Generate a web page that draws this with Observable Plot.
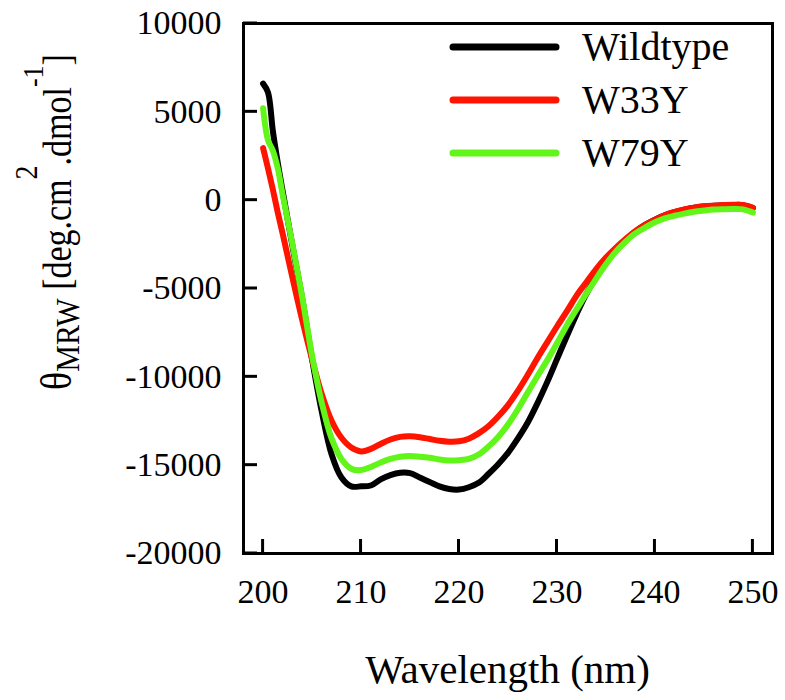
<!DOCTYPE html>
<html>
<head>
<meta charset="utf-8">
<script src="https://cdn.jsdelivr.net/npm/d3@7"></script>
<script src="https://cdn.jsdelivr.net/npm/@observablehq/plot@0.6"></script>
<style>
  html, body { margin: 0; padding: 0; background: #fff; }
  #chart { position: relative; width: 785px; height: 700px; }
</style>
</head>
<body>
<div id="chart"></div>
<script>
const seriesNames = ["Wildtype", "W33Y", "W79Y"];
const seriesColors = ["#000000", "#ff1400", "#62f51a"];
const xTicks = [200, 210, 220, 230, 240, 250];
const yTicks = [10000, 5000, 0, -5000, -10000, -15000, -20000];
const xLabel = "Wavelength (nm)";

const wavelengths = [200, 200.5, 201, 201.5, 202,
  203, 204, 205, 206, 207, 208, 209, 210, 211, 212, 213, 214, 215, 216, 217, 218, 219, 220,
  221, 222, 223, 224, 225, 226, 227, 228, 229, 230, 231, 232, 233, 234, 235, 236, 237, 238,
  239, 240, 241, 242, 243, 244, 245, 246, 247, 248, 249, 250];

const wildtype = [6600, 6100, 3900, 2100, 500,
  -2600, -5600, -9000, -12000, -14400, -15700, -16200, -16200, -16150, -15800, -15560, -15430, -15450, -15700, -15950, -16200, -16350, -16380,
  -16250, -16000, -15500, -14950, -14300, -13500, -12600, -11500, -10300, -9000, -7700, -6450, -5300, -4350, -3550, -2850, -2250, -1780,
  -1400, -1100, -850, -680, -540, -430, -360, -320, -290, -270, -280, -450];

const w33y = [2950, 1800, 600, -700, -1900,
  -4400, -6800, -9000, -11000, -12500, -13450, -14000, -14220, -14080, -13800, -13550, -13400, -13370, -13420, -13520, -13620, -13670, -13650,
  -13500, -13200, -12800, -12250, -11600, -10800, -9900, -8950, -8050, -7150, -6300, -5400, -4650, -3900, -3250, -2700, -2200, -1750,
  -1400, -1100, -850, -670, -530, -420, -350, -310, -280, -260, -270, -430];

const w79y = [5200, 3400, 2800, 1800, 300,
  -2500, -5500, -8800, -11500, -13500, -14650, -15200, -15280, -15100, -14850, -14650, -14520, -14480, -14520, -14580, -14680, -14740, -14720,
  -14650, -14400, -13950, -13400, -12700, -11850, -10900, -9970, -9070, -8100, -7090, -6180, -5290, -4440, -3630, -2920, -2350, -1880,
  -1550, -1250, -1030, -880, -760, -660, -590, -530, -510, -500, -520, -700];

const seriesValues = [wildtype, w33y, w79y];
const data = seriesNames.flatMap((name, i) =>
  wavelengths.map((w, j) => ({wavelength: w, value: seriesValues[i][j], series: name})));

const W = 785, H = 700;
const mL = 243, mR = 13, mT = 23, mB = 147;
const innerW = W - mL - mR, innerH = H - mT - mB;
const tickLen = 14;
const xDomain = [198, 252], yDomain = [-20000, 10000];
const font = "'Liberation Serif', 'Times New Roman', Times, serif";

const plot = Plot.plot({
  width: W, height: H,
  marginLeft: mL, marginRight: mR, marginTop: mT, marginBottom: mB,
  style: {fontFamily: font, background: "#fff", color: "#000", overflow: "visible"},
  x: {domain: xDomain},
  y: {domain: yDomain},
  color: {domain: seriesNames, range: seriesColors},
  marks: [
    Plot.line(data, {x: "wavelength", y: "value", z: "series", stroke: "series",
      strokeWidth: 6, curve: "catmull-rom", strokeLinecap: "round", strokeLinejoin: "round"}),
    Plot.axisX(xTicks, {tickSize: 0, tickPadding: 25, fontSize: 34, label: null, tickFormat: d => String(d)}),
    Plot.axisY(yTicks, {tickSize: 0, tickPadding: 22, fontSize: 34, label: null, tickFormat: d => String(d)}),
    Plot.frame({stroke: "#000", strokeWidth: 3})
  ]
});
document.getElementById("chart").appendChild(plot);

const svg = d3.select(plot);
const sx = plot.scale("x"), sy = plot.scale("y");
const fx = (sx && typeof sx.apply === "function") ? (v => sx.apply(v))
  : d3.scaleLinear(xDomain, [mL, W - mR]);
const fy = (sy && typeof sy.apply === "function") ? (v => sy.apply(v))
  : d3.scaleLinear(yDomain, [H - mB, mT]);
const x0 = mL, y0 = H - mB;

// inward tick marks positioned through the plot's own scales
const tg = svg.append("g");
xTicks.forEach(v => {
  const px = fx(v);
  tg.append("line")
    .attr("x1", px).attr("x2", px).attr("y1", y0).attr("y2", y0 - tickLen)
    .attr("stroke", "#000").attr("stroke-width", 3);
});
yTicks.forEach(v => {
  const py = fy(v);
  tg.append("line")
    .attr("x1", x0).attr("x2", x0 + tickLen).attr("y1", py).attr("y2", py)
    .attr("stroke", "#000").attr("stroke-width", 3);
});

// x-axis title
svg.append("text")
  .attr("x", mL + innerW / 2).attr("y", 683)
  .attr("text-anchor", "middle")
  .attr("font-family", font).attr("font-size", 41).attr("fill", "#000")
  .text(xLabel);

// y-axis title with sub/superscripts
const yt = svg.append("text")
  .attr("transform", "translate(71,222) rotate(-90) scale(1,1.15)")
  .attr("text-anchor", "middle")
  .attr("font-family", font).attr("font-size", 34).attr("fill", "#000");
yt.append("tspan").attr("font-size", 38).text("θ");
yt.append("tspan").attr("font-size", 30).attr("dy", 7).text("MRW");
yt.append("tspan").attr("dy", -7).text(" [deg.cm");
yt.append("tspan").attr("font-size", 28).attr("dy", -30).text("2");
yt.append("tspan").attr("dy", 30).text(".dmol");
yt.append("tspan").attr("font-size", 26).attr("dy", -24).text("-1");
yt.append("tspan").attr("dy", 24).text("]");

// legend
const legY = [47, 100, 153];
seriesNames.forEach((name, i) => {
  svg.append("line")
    .attr("x1", 453).attr("x2", 556).attr("y1", legY[i]).attr("y2", legY[i])
    .attr("stroke", seriesColors[i]).attr("stroke-width", 7).attr("stroke-linecap", "round");
  svg.append("text")
    .attr("x", 582).attr("y", legY[i] + 13)
    .attr("text-anchor", "start")
    .attr("font-family", font).attr("font-size", 40).attr("fill", "#000")
    .text(name);
});
</script>
</body>
</html>
